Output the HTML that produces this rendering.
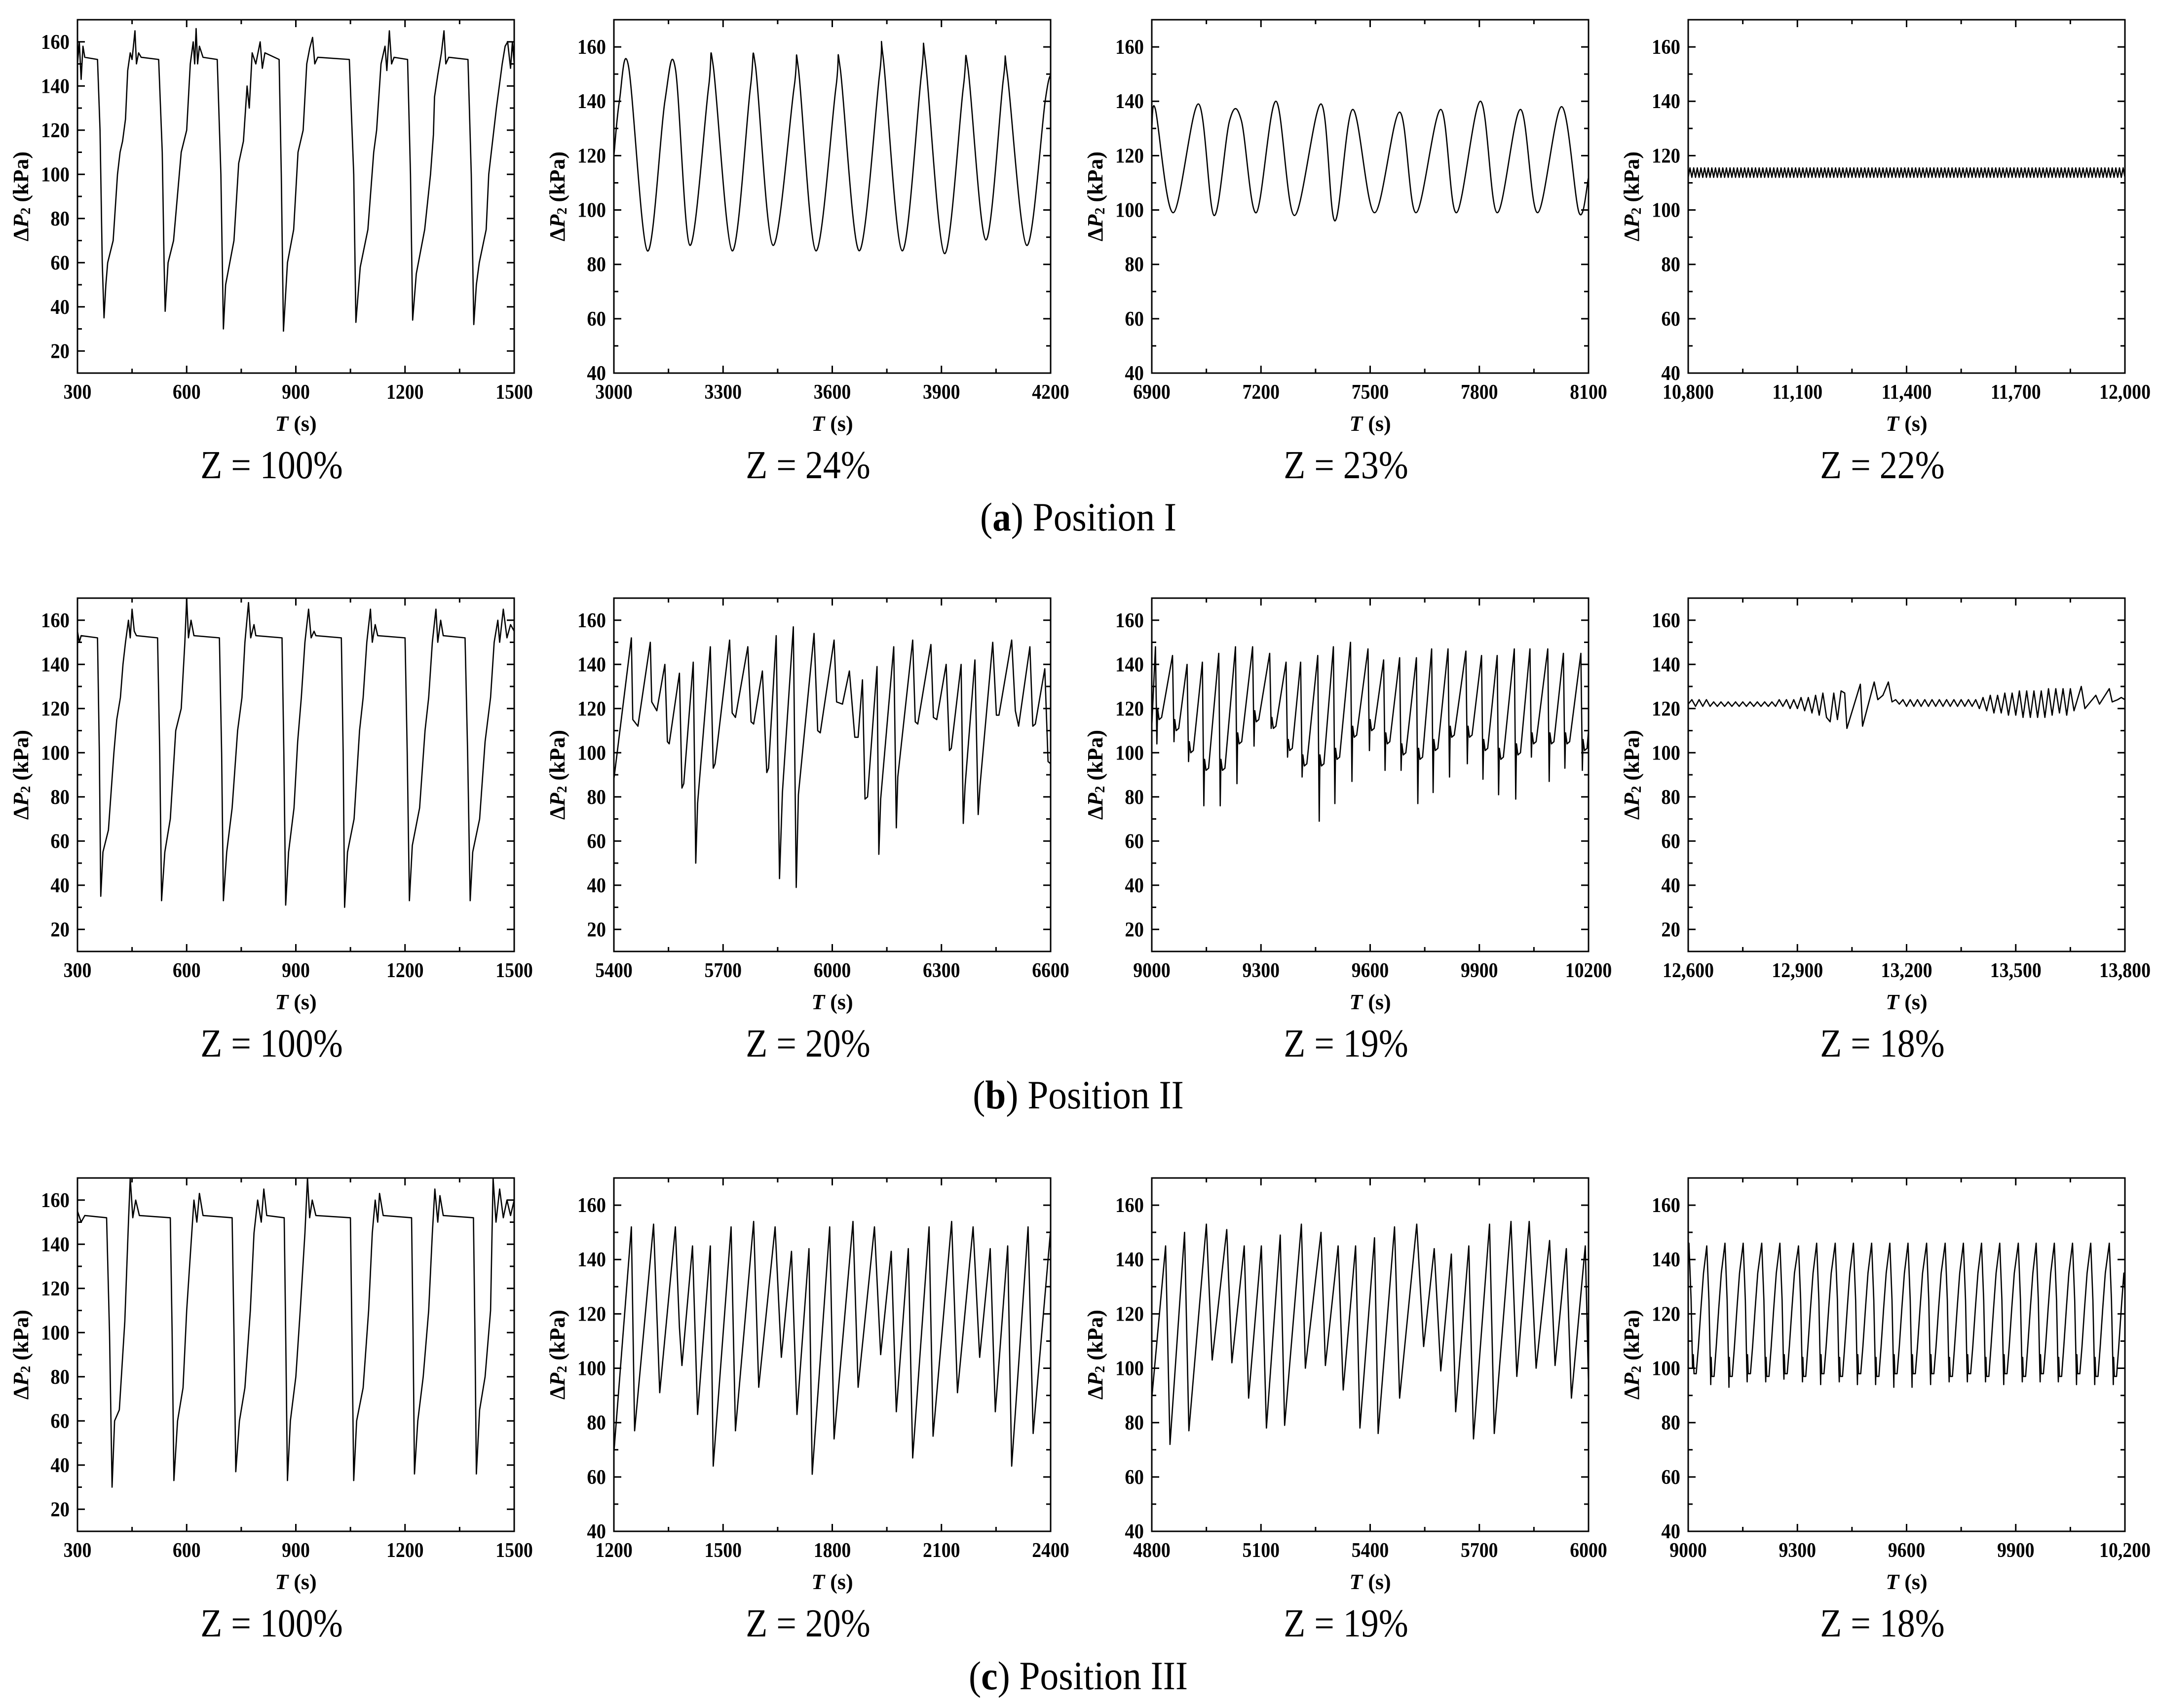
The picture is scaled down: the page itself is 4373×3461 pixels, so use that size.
<!DOCTYPE html>
<html><head><meta charset="utf-8"><title>ΔP2 time series</title>
<style>
html,body{margin:0;padding:0;background:#fff;}
svg{display:block;}
text{font-family:"Liberation Serif","DejaVu Serif",serif;fill:#000;}
</style></head>
<body>
<svg id="fig" width="4373" height="3461" viewBox="0 0 4373 3461">
  <rect x="0" y="0" width="4373" height="3461" fill="#fff"/>
  <text x="0" y="0" transform="translate(2185 1075) scale(0.92 1)" font-size="82" text-anchor="middle">(<tspan font-weight="bold">a</tspan>) Position I</text>
  <text x="0" y="0" transform="translate(2185 2246) scale(0.92 1)" font-size="82" text-anchor="middle">(<tspan font-weight="bold">b</tspan>) Position II</text>
  <text x="0" y="0" transform="translate(2185 3423) scale(0.92 1)" font-size="82" text-anchor="middle">(<tspan font-weight="bold">c</tspan>) Position III</text>
</svg>
<script>
// ---------------- DATA ----------------
const a1T=[300,305,310,315,320,355,362,368,373,378,383,398,410,417,424,432,438,445,450,455,458,462,468,475,523,533,538,541,549,564,585,600,610,618,622,626,630,635,645,684,694,701,707,730,743,756,766,772,780,790,802,808,815,854,860,866,877,894,906,920,930,938,946,952,960,1047,1059,1065,1077,1098,1114,1122,1134,1145,1150,1157,1163,1170,1207,1215,1221,1231,1254,1270,1278,1281,1290,1300,1307,1312,1320,1373,1382,1389,1396,1404,1423,1430,1451,1467,1475,1482,1490,1495,1500];
const a1V=[150,160,143,158,153,152,120,60,35,50,60,70,100,110,115,125,147,155,152,160,165,150,155,153,152,110,60,38,60,70,110,120,150,160,150,166,150,158,153,152,100,30,50,70,105,115,140,130,155,150,160,148,155,152,100,29,60,75,110,120,150,157,162,150,153,152,100,33,58,75,110,120,150,158,147,165,150,153,152,100,34,55,75,100,118,135,145,155,165,150,153,152,100,32,50,60,75,100,130,150,158,160,148,160,150];

const b1T=[300,305,310,355,360,364,370,385,400,408,418,425,432,440,445,450,456,462,520,526,531,540,555,570,585,595,600,605,612,620,690,696,701,710,725,740,752,760,770,776,785,790,862,867,872,880,895,905,915,925,935,942,950,955,1025,1030,1034,1042,1060,1075,1085,1095,1105,1110,1118,1125,1200,1206,1212,1220,1240,1255,1265,1275,1285,1290,1298,1305,1365,1372,1379,1386,1405,1420,1435,1445,1455,1460,1470,1480,1490,1500];
const b1V=[155,150,153,152,100,35,55,65,100,115,125,140,150,160,152,165,155,153,152,100,33,55,70,110,120,150,170,152,160,153,152,100,33,55,75,110,125,150,168,152,158,153,152,100,31,55,75,105,125,150,165,152,155,153,152,100,30,55,70,110,125,150,165,150,158,153,152,100,33,58,75,110,125,150,165,150,160,153,152,100,33,55,70,105,125,150,160,150,165,152,158,155];

const c1T=[300,310,320,380,388,395,402,415,430,440,445,452,460,470,555,560,565,575,590,600,612,620,628,635,645,725,730,735,745,760,775,785,795,805,812,820,868,872,877,885,900,912,925,932,938,945,955,1050,1054,1059,1067,1085,1100,1110,1118,1125,1130,1140,1218,1222,1226,1235,1250,1265,1275,1282,1290,1296,1305,1388,1392,1396,1405,1420,1435,1442,1450,1460,1470,1480,1490,1500];
const c1V=[155,150,153,152,100,30,60,65,105,150,170,152,160,153,152,100,33,60,75,110,140,160,150,163,153,152,100,37,60,75,110,145,160,150,165,153,152,100,33,60,80,110,145,170,152,160,153,152,100,33,60,75,110,145,160,150,163,153,152,100,36,60,80,110,145,165,150,162,153,152,100,36,65,80,110,170,150,165,152,160,153,160];

const a2T=[3000,3015,3040,3092,3140,3169,3209,3260,3273,3325,3375,3389,3437,3495,3507,3555,3610,3622,3674,3730,3740,3792,3845,3856,3908,3960,3973,4022,4070,4081,4134,4185,4200];
const a2V=[120,140,153,85,140,152,87,145,153,85,145,153,87,145,152,85,145,152,85,150,156,85,150,155,84,145,152,89,148,150,87,140,150];

const a3T=[6900,6910,6959,7028,7071,7114,7146,7187,7241,7292,7365,7403,7452,7512,7581,7626,7694,7737,7803,7849,7913,7960,8026,8074,8100];
const a3V=[130,137,99,139,98,133,133,99,140,98,139,96,137,99,136,99,137,99,140,99,137,99,138,99,112];

const a4T=[10800,10810,10820,10830,10840,10850,10860,10870,10880,10890,10900,10910,10920,10930,10940,10950,10960,10970,10980,10990,11000,11010,11020,11030,11040,11050,11060,11070,11080,11090,11100,11110,11120,11130,11140,11150,11160,11170,11180,11190,11200,11210,11220,11230,11240,11250,11260,11270,11280,11290,11300,11310,11320,11330,11340,11350,11360,11370,11380,11390,11400,11410,11420,11430,11440,11450,11460,11470,11480,11490,11500,11510,11520,11530,11540,11550,11560,11570,11580,11590,11600,11610,11620,11630,11640,11650,11660,11670,11680,11690,11700,11710,11720,11730,11740,11750,11760,11770,11780,11790,11800,11810,11820,11830,11840,11850,11860,11870,11880,11890,11900,11910,11920,11930,11940,11950,11960,11970,11980,11990];
const a4Low=[112,112,112,112,112,112,112,112,112,112,112,112,112,112,112,112,112,112,112,112,112,112,112,112,112,112,112,112,112,112,112,112,112,112,112,112,112,112,112,112,112,112,112,112,112,112,112,112,112,112,112,112,112,112,112,112,112,112,112,112,112,112,112,112,112,112,112,112,112,112,112,112,112,112,112,112,112,112,112,112,112,112,112,112,112,112,112,112,112,112,112,112,112,112,112,112,112,112,112,112,112,112,112,112,112,112,112,112,112,112,112,112,112,112,112,112,112,112,112,112];
const a4High=[115.5,115.5,115.5,115.5,115.5,115.5,115.5,115.5,115.5,115.5,115.5,115.5,115.5,115.5,115.5,115.5,115.5,115.5,115.5,115.5,115.5,115.5,115.5,115.5,115.5,115.5,115.5,115.5,115.5,115.5,115.5,115.5,115.5,115.5,115.5,115.5,115.5,115.5,115.5,115.5,115.5,115.5,115.5,115.5,115.5,115.5,115.5,115.5,115.5,115.5,115.5,115.5,115.5,115.5,115.5,115.5,115.5,115.5,115.5,115.5,115.5,115.5,115.5,115.5,115.5,115.5,115.5,115.5,115.5,115.5,115.5,115.5,115.5,115.5,115.5,115.5,115.5,115.5,115.5,115.5,115.5,115.5,115.5,115.5,115.5,115.5,115.5,115.5,115.5,115.5,115.5,115.5,115.5,115.5,115.5,115.5,115.5,115.5,115.5,115.5,115.5,115.5,115.5,115.5,115.5,115.5,115.5,115.5,115.5,115.5,115.5,115.5,115.5,115.5,115.5,115.5,115.5,115.5,115.5,115.5];

const b2T=[5400,5448,5452,5466,5500,5504,5518,5540,5547,5552,5580,5587,5592,5618,5625,5630,5665,5673,5678,5718,5725,5734,5768,5777,5784,5808,5820,5825,5846,5855,5863,5893,5901,5907,5950,5960,5967,6005,6012,6028,6047,6062,6071,6083,6090,6097,6123,6128,6133,6169,6176,6180,6221,6228,6235,6271,6278,6287,6313,6322,6327,6354,6360,6365,6392,6401,6406,6441,6451,6458,6493,6503,6512,6543,6551,6558,6584,6593,6600];
const b2V=[88,152,115,112,150,123,119,140,105,104,136,84,86,141,50,77,148,93,95,151,118,116,148,114,113,137,91,93,153,43,82,157,39,81,154,110,109,151,123,122,137,107,107,133,79,80,139,54,79,148,66,89,151,114,113,149,116,115,140,101,102,140,68,85,142,72,85,150,117,117,151,119,112,148,112,113,138,96,95];

const b3PeakT=[9010,9057,9097,9139,9184,9230,9277,9324,9369,9409,9456,9499,9546,9594,9637,9681,9727,9769,9814,9863,9906,9949,9996,10039,10088,10131,10179];
const b3PeakV=[148,144,140,141,145,148,148,145,141,141,144,148,150,147,142,143,143,147,147,146,144,144,147,147,147,145,145];
const b3SpikeV=[104,105,96,76,76,86,103,111,98,89,69,77,87,101,92,92,77,82,89,95,88,81,79,98,87,93,92];
const b3PlatV=[115,110,100,92,92,104,114,111,101,94,94,97,107,110,104,99,97,101,107,107,101,97,99,104,104,104,101];

const b4T=[12600,12610,12620,12630,12640,12650,12660,12670,12680,12690,12700,12710,12720,12730,12740,12750,12760,12770,12780,12790,12800,12810,12820,12830,12840,12850,12860,12870,12880,12890,12900,12910,12920,12930,12940,12950,12960,12970,12980,12990,13000,13010,13020,13030,13036,13073,13079,13111,13121,13135,13150,13160,13170,13180,13190,13200,13210,13220,13230,13240,13250,13260,13270,13280,13290,13300,13310,13320,13330,13340,13350,13360,13370,13380,13390,13400,13410,13420,13430,13440,13450,13460,13470,13480,13490,13500,13510,13520,13530,13540,13550,13560,13570,13580,13590,13600,13610,13620,13630,13640,13650,13660,13680,13690,13700,13720,13730,13757,13765,13780,13790,13800];
const b4V=[122,124,121,124,121,124,121,123,121,123,121,123,121,123,121,123,121,123,121,123,121,123,121,123,121,124,121,124,120,124,120,125,119,125,118,126,117,127,116,114,127,115,128,127,111,131,112,132,124,126,132,123,124,122,124,121,124,121,124,121,124,121,124,121,124,121,124,121,124,121,124,121,124,121,124,120,125,119,126,118,126,118,127,117,127,117,128,116,128,116,128,116,128,116,129,117,129,118,129,117,129,119,130,120,122,126,122,129,123,124,125,124];

const c2T=[1200,1248,1257,1309,1326,1369,1380,1387,1416,1430,1465,1473,1522,1534,1584,1598,1643,1660,1688,1703,1736,1745,1793,1805,1857,1871,1916,1933,1962,1976,2009,2021,2066,2077,2128,2144,2187,2205,2234,2248,2282,2293,2338,2352,2400];
const c2V=[69,152,77,153,91,152,115,101,145,83,145,64,152,77,154,93,152,104,143,83,144,61,152,74,154,93,152,105,143,84,144,67,152,75,154,91,152,104,144,84,145,64,152,76,151];

const c3T=[4800,4838,4850,4890,4902,4950,4966,5006,5020,5054,5066,5101,5115,5153,5165,5211,5222,5265,5277,5312,5326,5360,5372,5412,5422,5467,5481,5528,5547,5576,5594,5623,5635,5671,5684,5728,5741,5787,5803,5837,5856,5893,5908,5939,5953,5991,6000];
const c3V=[89,145,72,150,77,153,103,151,102,145,89,145,78,149,79,153,100,150,101,145,92,145,78,148,76,152,89,153,108,144,99,142,84,145,74,153,76,154,97,154,100,147,101,144,89,145,94];

const c4PeakT=[9002,9051,9101,9151,9202,9252,9303,9353,9404,9454,9504,9554,9604,9655,9706,9756,9806,9856,9907,9956,10006,10056,10106,10157];
const c4PeakV=[146,145,146,146,146,146,145,146,146,146,146,146,146,146,146,146,146,146,146,146,146,146,146,146];
const c4TroughV=[98,97,97,98,97,98,97,98,97,98,97,98,98,98,97,98,97,98,97,98,97,98,97,97];
const c4SpikeV=[101,94,93,95,95,96,95,94,95,94,94,93,93,94,95,95,95,94,95,95,95,94,94,94];

const yTicksFull=[20,40,60,80,100,120,140,160];
const yTicksHigh=[40,60,80,100,120,140,160];
const xt_a1=[300,600,900,1200,1500], xl_a1=["300","600","900","1200","1500"];
const xt_a2=[3000,3300,3600,3900,4200], xl_a2=["3000","3300","3600","3900","4200"];
const xt_a3=[6900,7200,7500,7800,8100], xl_a3=["6900","7200","7500","7800","8100"];
const xt_a4=[10800,11100,11400,11700,12000], xl_a4=["10,800","11,100","11,400","11,700","12,000"];
const xt_b2=[5400,5700,6000,6300,6600], xl_b2=["5400","5700","6000","6300","6600"];
const xt_b3=[9000,9300,9600,9900,10200], xl_b3=["9000","9300","9600","9900","10200"];
const xt_b4=[12600,12900,13200,13500,13800], xl_b4=["12,600","12,900","13,200","13,500","13,800"];
const xt_c2=[1200,1500,1800,2100,2400], xl_c2=["1200","1500","1800","2100","2400"];
const xt_c3=[4800,5100,5400,5700,6000], xl_c3=["4800","5100","5400","5700","6000"];
const xt_c4=[9000,9300,9600,9900,10200], xl_c4=["9000","9300","9600","9900","10,200"];

// ------------- builders from cycle arrays -------------
function seriesA4(){const t=[],v=[];for(let i=0;i<a4T.length;i++){t.push(a4T[i]);v.push(a4Low[i]);t.push(a4T[i]+5);v.push(a4High[i]);}t.push(12000);v.push(a4Low[a4Low.length-1]);return [t,v];}
function seriesB3(){const t=[9000],v=[112];for(let i=0;i<b3PeakT.length;i++){const T=b3PeakT[i];t.push(T,T+4,T+6,T+10,T+17);v.push(b3PeakV[i],b3SpikeV[i],b3PlatV[i]+5,b3PlatV[i],b3PlatV[i]+1);}t.push(10200);v.push(110);return [t,v];}
function seriesC4(){const t=[9000],v=[140];for(let i=0;i<c4PeakT.length;i++){const T=c4PeakT[i];const tv=c4TroughV[i];const pts=[[0,c4PeakV[i]],[6,125],[10,100],[11,c4SpikeV[i]],[12,tv+7],[14,tv],[20,tv],[26,108],[33,122],[40,135]];for(const p of pts){if(T+p[0]<=10200){t.push(T+p[0]);v.push(p[1]);}}}t.push(10200);v.push(128);return [t,v];}

const cols=[157,1244,2334,3421], rows=[40,1212,2387], PW=885, PH=716;
const panels=[
 {id:'a1',c:0,r:0,x0:300,x1:1500,y0:10,y1:170,yt:yTicksFull,xt:xt_a1,xl:xl_a1,s:[a1T,a1V],z:'Z = 100%'},
 {id:'a2',c:1,r:0,x0:3000,x1:4200,y0:40,y1:170,yt:yTicksHigh,xt:xt_a2,xl:xl_a2,s:[a2T,a2V],z:'Z = 24%',smooth:true},
 {id:'a3',c:2,r:0,x0:6900,x1:8100,y0:40,y1:170,yt:yTicksHigh,xt:xt_a3,xl:xl_a3,s:[a3T,a3V],z:'Z = 23%',smooth:true},
 {id:'a4',c:3,r:0,x0:10800,x1:12000,y0:40,y1:170,yt:yTicksHigh,xt:xt_a4,xl:xl_a4,s:seriesA4(),z:'Z = 22%'},
 {id:'b1',c:0,r:1,x0:300,x1:1500,y0:10,y1:170,yt:yTicksFull,xt:xt_a1,xl:xl_a1,s:[b1T,b1V],z:'Z = 100%'},
 {id:'b2',c:1,r:1,x0:5400,x1:6600,y0:10,y1:170,yt:yTicksFull,xt:xt_b2,xl:xl_b2,s:[b2T,b2V],z:'Z = 20%'},
 {id:'b3',c:2,r:1,x0:9000,x1:10200,y0:10,y1:170,yt:yTicksFull,xt:xt_b3,xl:xl_b3,s:seriesB3(),z:'Z = 19%'},
 {id:'b4',c:3,r:1,x0:12600,x1:13800,y0:10,y1:170,yt:yTicksFull,xt:xt_b4,xl:xl_b4,s:[b4T,b4V],z:'Z = 18%'},
 {id:'c1',c:0,r:2,x0:300,x1:1500,y0:10,y1:170,yt:yTicksFull,xt:xt_a1,xl:xl_a1,s:[c1T,c1V],z:'Z = 100%'},
 {id:'c2',c:1,r:2,x0:1200,x1:2400,y0:40,y1:170,yt:yTicksHigh,xt:xt_c2,xl:xl_c2,s:[c2T,c2V],z:'Z = 20%'},
 {id:'c3',c:2,r:2,x0:4800,x1:6000,y0:40,y1:170,yt:yTicksHigh,xt:xt_c3,xl:xl_c3,s:[c3T,c3V],z:'Z = 19%'},
 {id:'c4',c:3,r:2,x0:9000,x1:10200,y0:40,y1:170,yt:yTicksHigh,xt:xt_c4,xl:xl_c4,s:seriesC4(),z:'Z = 18%'}
];

const svg=document.getElementById('fig');
const NSU=svg.namespaceURI;
function mk(tag,attrs,parent){const e=document.createElementNS(NSU,tag);for(const k in attrs)e.setAttribute(k,attrs[k]);parent.appendChild(e);return e;}

function smoothPath(P){
  let d='M'+P[0][0].toFixed(1)+' '+P[0][1].toFixed(1);
  for(let i=0;i<P.length-1;i++){
    const p0=P[Math.max(0,i-1)],p1=P[i],p2=P[i+1],p3=P[Math.min(P.length-1,i+2)];
    const c1x=p1[0]+(p2[0]-p0[0])/6,c1y=p1[1]+(p2[1]-p0[1])/6;
    const c2x=p2[0]-(p3[0]-p1[0])/6,c2y=p2[1]-(p3[1]-p1[1])/6;
    d+=`C${c1x.toFixed(1)} ${c1y.toFixed(1)} ${c2x.toFixed(1)} ${c2y.toFixed(1)} ${p2[0].toFixed(1)} ${p2[1].toFixed(1)}`;
  }
  return d;
}

for(const p of panels){
  const L=cols[p.c], T=rows[p.r], R=L+PW, B=T+PH;
  const sx=t=>L+(t-p.x0)/(p.x1-p.x0)*PW;
  const sy=v=>T+(p.y1-v)/(p.y1-p.y0)*PH;
  const g=mk('g',{},svg);
  
  

  const ts=p.s[0], vs=p.s[1];
  const P=ts.map((t,i)=>[sx(t),sy(vs[i])]);
  let d='';
  if(p.smooth){d=smoothPath(P);}
  else{for(let i=0;i<P.length;i++){d+=(i?'L':'M')+P[i][0].toFixed(1)+' '+P[i][1].toFixed(1);}}
  const line=mk('path',{d:d,fill:'none',stroke:'#000','stroke-width':2.6,'stroke-linejoin':'round'},g);
  
  

  let td='';
  const step=p.xt[1]-p.xt[0];
  for(let x=p.x0;x<=p.x1+0.1;x+=step/2){
    const major=p.xt.some(v=>Math.abs(v-x)<0.1);
    const len=major?15:9; const X=sx(x);
    td+=`M${X} ${B}V${B-len}M${X} ${T}V${T+len}`;
  }
  for(let y=p.y0;y<=p.y1+0.1;y+=10){
    const major=p.yt.includes(y);
    const len=major?15:9; const Y=sy(y);
    td+=`M${L} ${Y}H${L+len}M${R} ${Y}H${R-len}`;
  }
  const ticks=mk('path',{d:td,stroke:'#000','stroke-width':3,fill:'none'},g);
  
  

  const frame=mk('rect',{x:L,y:T,width:PW,height:PH,fill:'none',stroke:'#000','stroke-width':3},g);
  
  

  for(const y of p.yt){
    const tl=mk('text',{x:0,y:0,transform:`translate(${L-16} ${sy(y)+14}) scale(0.92 1)`,'font-size':42,'font-weight':'bold','text-anchor':'end'},g);
    tl.textContent=String(y);
    
    
  }
  for(let i=0;i<p.xt.length;i++){
    const tl=mk('text',{x:0,y:0,transform:`translate(${sx(p.xt[i])} ${B+52}) scale(0.9 1)`,'font-size':42,'font-weight':'bold','text-anchor':'middle'},g);
    tl.textContent=p.xl[i];
    
    
  }
  const cy=T+PH/2, cx=L-115;
  const yt=mk('text',{x:cx,y:cy,'font-size':44,'font-weight':'bold','text-anchor':'middle','dominant-baseline':'central',transform:`rotate(-90 ${cx} ${cy})`},g);
  
  
  const t1=mk('tspan',{},yt); t1.textContent='Δ';
  const t2=mk('tspan',{'font-style':'italic'},yt); t2.textContent='P';
  const t3=mk('tspan',{'font-size':28,dy:10},yt); t3.textContent='2';
  const t4=mk('tspan',{dy:-10},yt); t4.textContent=' (kPa)';
  const xt=mk('text',{x:L+PW/2,y:B+117,'font-size':44,'font-weight':'bold','text-anchor':'middle'},g);
  
  
  const x1=mk('tspan',{'font-style':'italic'},xt); x1.textContent='T';
  const x2=mk('tspan',{},xt); x2.textContent=' (s)';
  const zl=mk('text',{x:0,y:0,transform:`translate(${L+PW/2-49} ${B+213}) scale(0.9 1)`,'font-size':80,'text-anchor':'middle'},g);
  zl.textContent=p.z;
  
  
}
</script>
</body></html>
